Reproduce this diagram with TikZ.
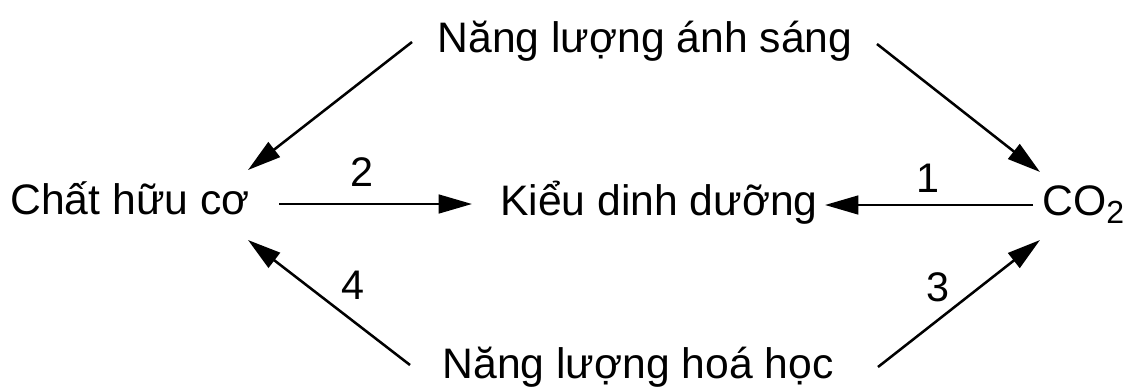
\documentclass[tikz,border=0pt]{standalone}
\usepackage{fontspec}
\setmainfont{Liberation Sans}
\usetikzlibrary{arrows.meta}
\begin{document}
\begin{tikzpicture}[x=0.75pt,y=-0.75pt,
  lbl/.style={font=\fontsize{32}{38}\selectfont, inner sep=0pt, anchor=base},
  num/.style={font=\fontsize{31}{37}\selectfont, inner sep=0pt},
  arr/.style={line width=1.9pt, -{Triangle[length=25pt,width=14pt]}}]
\useasboundingbox (0,0) rectangle (1129,386);
\node[lbl] (top) at (645,52) {Năng lượng ánh sáng};
\node[lbl] (chc) at (130,214) {Chất hữu cơ};
\node[lbl] (kdd) at (659,215) {Kiểu dinh dưỡng};
\node[lbl, anchor=base west] (co2) at (1042,215) {CO\raisebox{-6pt}{\fontsize{24}{24}\selectfont 2}};
\node[lbl] (bot) at (638,378) {Năng lượng hoá học};
\coordinate (tlA) at (412,42);
\coordinate (tlB) at (248,170);
\coordinate (trA) at (877,44);
\coordinate (trB) at (1040,172);
\coordinate (blA) at (410,365);
\coordinate (blB) at (248,240);
\coordinate (brA) at (878,367);
\coordinate (brB) at (1040,240);
\coordinate (m2A) at (279,204);
\coordinate (m2B) at (472,204);
\coordinate (m1A) at (1033,205);
\coordinate (m1B) at (825,205);
\draw[arr] (tlA) -- (tlB);
\draw[arr] (trA) -- (trB);
\draw[arr] (blA) -- (blB);
\draw[arr] (brA) -- (brB);
\draw[arr] (m2A) -- (m2B);
\draw[arr] (m1A) -- (m1B);
\node[num] (n2) at (362,172) {2};
\node[num] (n1) at (928,178) {1};
\node[num] (n4) at (353,285) {4};
\node[num] (n3) at (938,287) {3};
\end{tikzpicture}
\end{document}
